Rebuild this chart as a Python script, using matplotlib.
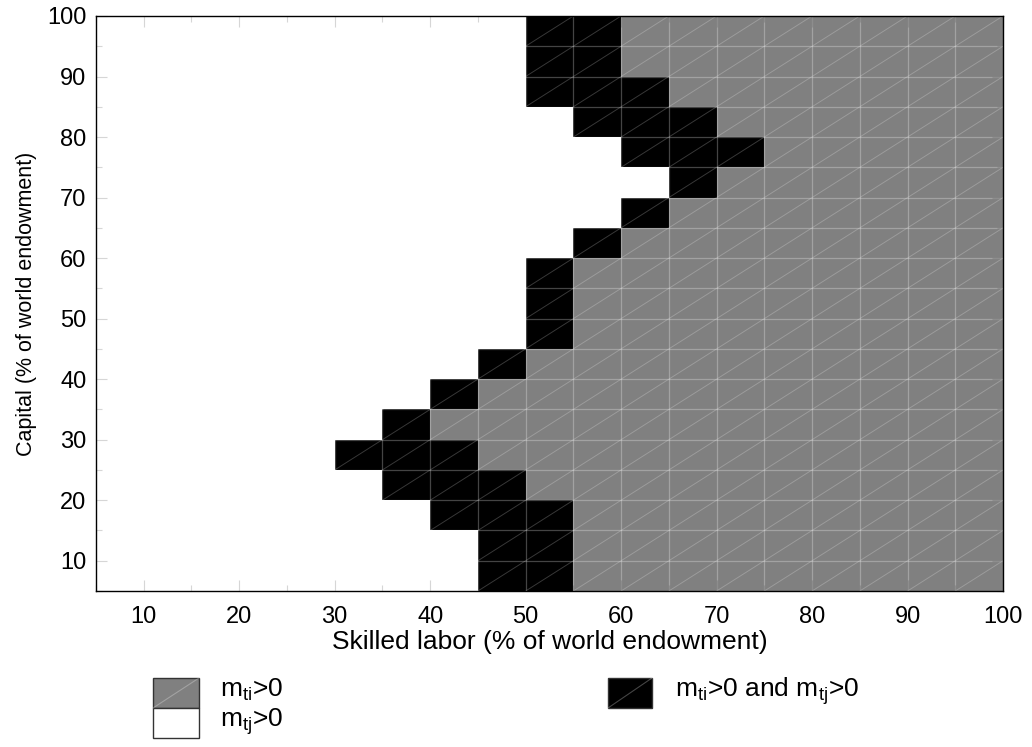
import numpy as np
import matplotlib
matplotlib.use('Agg')
import matplotlib.pyplot as plt
from matplotlib.colors import ListedColormap
from matplotlib.collections import LineCollection
from matplotlib.patches import Rectangle

plt.rcParams['font.family'] = ['Liberation Sans', 'DejaVu Sans']
plt.rcParams['mathtext.fontset'] = 'custom'
plt.rcParams['mathtext.rm'] = 'Liberation Sans'
plt.rcParams['mathtext.it'] = 'Liberation Sans'

# grid of endowment shares (cell edges, % of world endowment)
skilled_edges = np.arange(5, 101, 5)
capital_edges = np.arange(5, 101, 5)

# per capital row (lower edge 5..95): skilled-labor range where both m_ti>0 and m_tj>0
# left of it only m_tj>0 (white), right of it only m_ti>0 (gray)
row_capital = [5, 10, 15, 20, 25, 30, 35, 40, 45, 50, 55, 60, 65, 70, 75, 80, 85, 90, 95]
both_lo = [45, 45, 40, 35, 30, 35, 40, 45, 50, 50, 50, 55, 60, 65, 60, 55, 50, 50, 50]
both_hi = [55, 55, 55, 50, 45, 40, 45, 50, 55, 55, 55, 60, 65, 70, 75, 70, 65, 60, 60]

x_ticks = [10, 20, 30, 40, 50, 60, 70, 80, 90, 100]
y_ticks = [10, 20, 30, 40, 50, 60, 70, 80, 90, 100]

labels = [r'm$_{ti}$>0', r'm$_{tj}$>0', r'm$_{ti}$>0 and m$_{tj}$>0']

# 0 = m_tj>0 (white), 1 = m_ti>0 (gray), 2 = both (black)
x_lo = skilled_edges[:-1]
regime = np.zeros((len(row_capital), len(x_lo)))
for r in range(len(row_capital)):
    regime[r] = np.where(x_lo < both_lo[r], 0, np.where(x_lo < both_hi[r], 2, 1))

fig = plt.figure(figsize=(10.32, 7.47), dpi=100)
ax = fig.add_axes([0.093, 0.2088, 0.8789, 0.7698])

cmap = ListedColormap(['white', '#808080', 'black'])
edge = (1, 1, 1, 0.27)
ax.pcolormesh(skilled_edges, capital_edges, regime, cmap=cmap, vmin=-0.5, vmax=2.5,
              edgecolors='none', antialiased=False)

# triangle mesh: grid lines plus one diagonal per cell
mesh = [[(x, 5), (x, 100)] for x in skilled_edges[1:-1]]
mesh += [[(5, y), (100, y)] for y in capital_edges[1:-1]]
ax.add_collection(LineCollection(mesh, colors=[edge], linewidths=0.9))
X, Y = np.meshgrid(skilled_edges[:-1], capital_edges[:-1])
diag = [[(x, y), (x + 5, y + 5)] for x, y in zip(X.ravel(), Y.ravel())]
ax.add_collection(LineCollection(diag, colors=[(1, 1, 1, 0.22)], linewidths=0.7))

ax.set_xlim(5, 100)
ax.set_ylim(5, 100)
ax.set_xticks(x_ticks)
ax.set_yticks(y_ticks)
ax.set_xticks(np.arange(5, 101, 5), minor=True)
ax.set_yticks(np.arange(5, 101, 5), minor=True)
ax.tick_params(which='both', direction='in', top=True, right=True, color=(0, 0, 0, 0.22),
               labelsize=17, width=0.8)
ax.tick_params(which='major', length=8)
ax.tick_params(which='minor', length=4)
ax.tick_params(axis='x', pad=11)
ax.tick_params(axis='y', pad=7)
for s in ax.spines.values():
    s.set_linewidth(1.0)
    s.set_zorder(5)
ax.set_xlabel('Skilled labor (% of world endowment)', fontsize=19, labelpad=1)
ax.set_ylabel('Capital (% of world endowment)', fontsize=15.5, labelpad=7)

# legend drawn below the axes
lg = fig.add_axes([0, 0, 1, 0.12])
lg.set_xlim(0, 1032)
lg.set_ylim(0, 0.12 * 747)
lg.axis('off')
swatches = [('#808080', 153, 39, 46), ('white', 153, 9, 46), ('black', 608, 39, 44)]
for (fc, x0, y0, w), lab in zip(swatches, labels):
    lg.add_patch(Rectangle((x0, y0), w, 30, facecolor=fc, edgecolor='#333333', linewidth=1.0))
    if fc != 'white':
        lg.plot([x0, x0 + w], [y0, y0 + 30], color=edge, linewidth=0.8)
    lg.text(x0 + 67, y0 + 11, lab, fontsize=19, va='baseline', ha='left')

fig.savefig('out.png', dpi=100)
